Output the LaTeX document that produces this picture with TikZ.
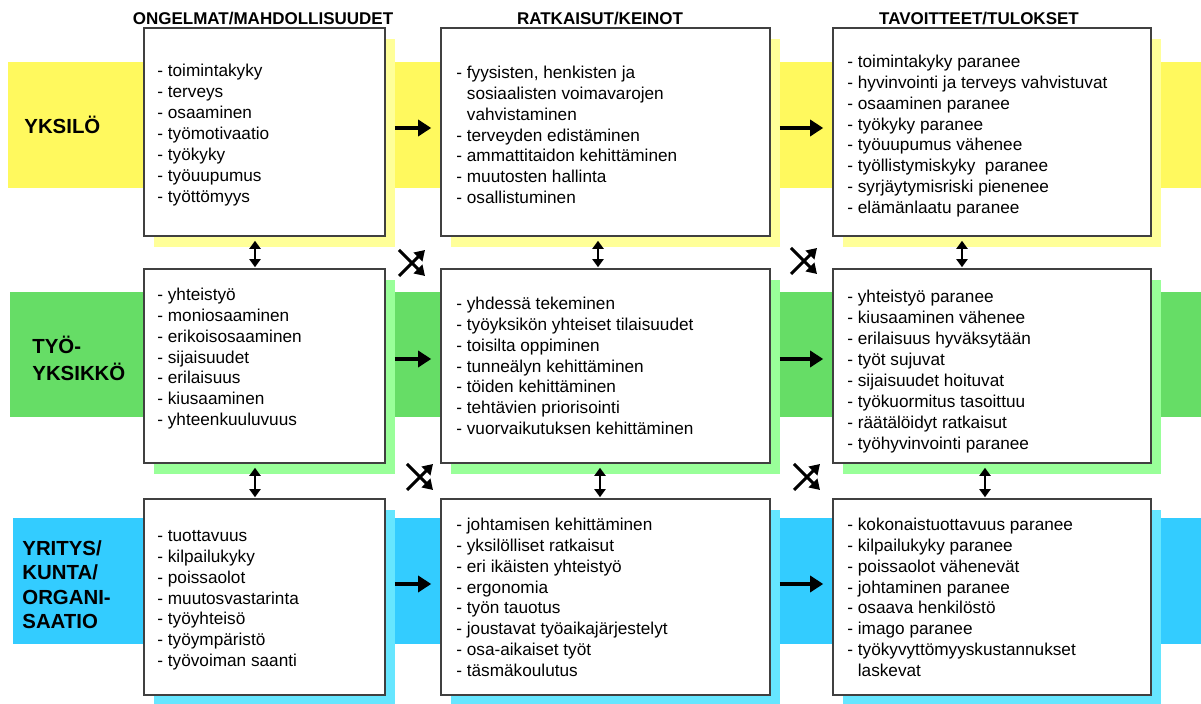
\documentclass[tikz,border=0pt]{standalone}
\usepackage{fontspec}
\setmainfont{Liberation Sans}
\usepackage{tikz}
\usetikzlibrary{calc,positioning,arrows.meta,shadows}

\definecolor{yband}{HTML}{FFF95E}
\definecolor{yshad}{HTML}{FFFF99}
\definecolor{gband}{HTML}{66DD66}
\definecolor{gshad}{HTML}{99FF99}
\definecolor{bband}{HTML}{33CCFF}
\definecolor{bshad}{HTML}{66E6FF}

\newcommand{\tp}{\rule{0pt}{7pt}}
\newcommand{\lp}{\rule{0pt}{9.5pt}}
\newcommand{\ind}{\phantom{- }}

\begin{document}
\begin{tikzpicture}[x=0.5pt,y=-0.5pt,
    box/.style={draw=black!75,line width=0.8pt,fill=white,inner sep=0pt},
    colA/.style={minimum width=120.5pt},
    colB/.style={minimum width=164.5pt},
    colC/.style={minimum width=159pt},
    rowY/.style={minimum height=104pt,drop shadow={shadow xshift=5pt,shadow yshift=-5.5pt,fill=yshad,opacity=1}},
    rowG/.style={minimum height=97pt,drop shadow={shadow xshift=5pt,shadow yshift=-5.5pt,fill=gshad,opacity=1}},
    rowB/.style={minimum height=98pt,drop shadow={shadow xshift=5pt,shadow yshift=-5.5pt,fill=bshad,opacity=1}},
    txt/.style={anchor=north west,inner sep=0pt,align=left,font=\fontsize{8.6}{10.45}\selectfont},
    lbl/.style={anchor=north west,inner sep=0pt,align=left,font=\fontsize{10.2}{12.25}\selectfont\bfseries},
    head/.style={anchor=base,inner sep=0pt,font=\fontsize{8.5}{10}\selectfont\bfseries},
    harr/.style={-{Triangle[length=6.5pt,width=8pt]},line width=2pt,shorten <=4.5pt,shorten >=4.5pt},
    varr/.style={{Triangle[length=4pt,width=5.5pt]}-{Triangle[length=4pt,width=5.5pt]},line width=1.4pt,shorten <=2pt,shorten >=0.5pt},
    xarr/.style={-{Triangle[length=5pt,width=6pt]},line width=1.5pt}]
    \useasboundingbox (0,0) rectangle (1201,704);

    % bands
    \fill[yband] (8,62) rectangle (1201,188);
    \fill[gband] (10,292) rectangle (1201,417);
    \fill[bband] (13,518) rectangle (1201,644);

    \node[lbl] (l1) at (24,114) {\lp YKSILÖ};
    \node[lbl,font=\fontsize{10.2}{13.5}\selectfont\bfseries] (l2) at (32,334) {\lp TYÖ-\\YKSIKKÖ};
    \node[lbl] (l3) at (22,536) {\lp YRITYS/\\KUNTA/\\ORGANI-\\SAATIO};

    % headers
    \node[head] (h1) at (263,25) {ONGELMAT/MAHDOLLISUUDET};
    \node[head] (h2) at (600,25) {RATKAISUT/KEINOT};
    \node[head] (h3) at (979,25) {TAVOITTEET/TULOKSET};

    % boxes
    \node[box,colA,rowY] (b11) at (264.5,132) {};
    \node[box,colB,rowY] (b12) at (605.5,132) {};
    \node[box,colC,rowY] (b13) at (992,132) {};
    \node[box,colA,rowG] (b21) at (264.5,366) {};
    \node[box,colB,rowG] (b22) at (605.5,366) {};
    \node[box,colC,rowG] (b23) at (992,366) {};
    \node[box,colA,rowB] (b31) at (264.5,597) {};
    \node[box,colB,rowB] (b32) at (605.5,597) {};
    \node[box,colC,rowB] (b33) at (992,597) {};

    % texts
    \node[txt] (t11) at (157,62.5) {\tp- toimintakyky\\- terveys\\- osaaminen\\- työmotivaatio\\- työkyky\\- työuupumus\\- työttömyys};
    \node[txt] (t12) at (456,64) {\tp- fyysisten, henkisten ja\\\ind sosiaalisten voimavarojen\\\ind vahvistaminen\\- terveyden edistäminen\\- ammattitaidon kehittäminen\\- muutosten hallinta\\- osallistuminen};
    \node[txt] (t13) at (847,53) {\tp- toimintakyky paranee\\- hyvinvointi ja terveys vahvistuvat\\- osaaminen paranee\\- työkyky paranee\\- työuupumus vähenee\\- työllistymiskyky \ paranee\\- syrjäytymisriski pienenee\\- elämänlaatu paranee};
    \node[txt] (t21) at (157,286) {\tp- yhteistyö\\- moniosaaminen\\- erikoisosaaminen\\- sijaisuudet\\- erilaisuus\\- kiusaaminen\\- yhteenkuuluvuus};
    \node[txt] (t22) at (456,295) {\tp- yhdessä tekeminen\\- työyksikön yhteiset tilaisuudet\\- toisilta oppiminen\\- tunneälyn kehittäminen\\- töiden kehittäminen\\- tehtävien priorisointi\\- vuorvaikutuksen kehittäminen};
    \node[txt] (t23) at (847,288.5) {\tp- yhteistyö paranee\\- kiusaaminen vähenee\\- erilaisuus hyväksytään\\- työt sujuvat\\- sijaisuudet hoituvat\\- työkuormitus tasoittuu\\- räätälöidyt ratkaisut\\- työhyvinvointi paranee};
    \node[txt] (t31) at (157,527) {\tp- tuottavuus\\- kilpailukyky\\- poissaolot\\- muutosvastarinta\\- työyhteisö\\- työympäristö\\- työvoiman saanti};
    \node[txt] (t32) at (456,516) {\tp- johtamisen kehittäminen\\- yksilölliset ratkaisut\\- eri ikäisten yhteistyö\\- ergonomia\\- työn tauotus\\- joustavat työaikajärjestelyt\\- osa-aikaiset työt\\- täsmäkoulutus};
    \node[txt] (t33) at (847,516) {\tp- kokonaistuottavuus paranee\\- kilpailukyky paranee\\- poissaolot vähenevät\\- johtaminen paranee\\- osaava henkilöstö\\- imago paranee\\- työkyvyttömyyskustannukset\\\ind laskevat};

    % arrows along the rows
    \draw[harr] ($(b11.east)+(0,-4)$) -- ($(b12.west)+(0,-4)$);
    \draw[harr] ($(b12.east)+(0,-4)$) -- ($(b13.west)+(0,-4)$);
    \draw[harr] ($(b21.east)+(0,-7)$) -- ($(b22.west)+(0,-7)$);
    \draw[harr] ($(b22.east)+(0,-7)$) -- ($(b23.west)+(0,-7)$);
    \draw[harr] ($(b31.east)+(0,-13)$) -- ($(b32.west)+(0,-13)$);
    \draw[harr] ($(b32.east)+(0,-13)$) -- ($(b33.west)+(0,-13)$);

    % arrows between the rows
    \draw[varr] ($(b11.south)+(-9.5,0)$) -- ($(b21.north)+(-9.5,0)$);
    \draw[varr] ($(b12.south)+(-7.5,0)$) -- ($(b22.north)+(-7.5,0)$);
    \draw[varr] ($(b13.south)+(-30,0)$) -- ($(b23.north)+(-30,0)$);
    \draw[varr] ($(b21.south)+(-9.5,0)$) -- ($(b31.north)+(-9.5,0)$);
    \draw[varr] ($(b22.south)+(-5.5,0)$) -- ($(b32.north)+(-5.5,0)$);
    \draw[varr] ($(b23.south)+(-7,0)$) -- ($(b33.north)+(-7,0)$);

    % crossed arrows
    \coordinate (xa) at (412,263);
    \coordinate (xb) at (804,261);
    \coordinate (xc) at (420,477);
    \coordinate (xd) at (807,477);
    \foreach \c in {xa,xb,xc,xd}{
      \draw[xarr] ($(\c)+(-13,-13)$) -- ($(\c)+(13,13)$);
      \draw[xarr] ($(\c)+(-13,13)$) -- ($(\c)+(13,-13)$);
    }
  \end{tikzpicture}
\end{document}
